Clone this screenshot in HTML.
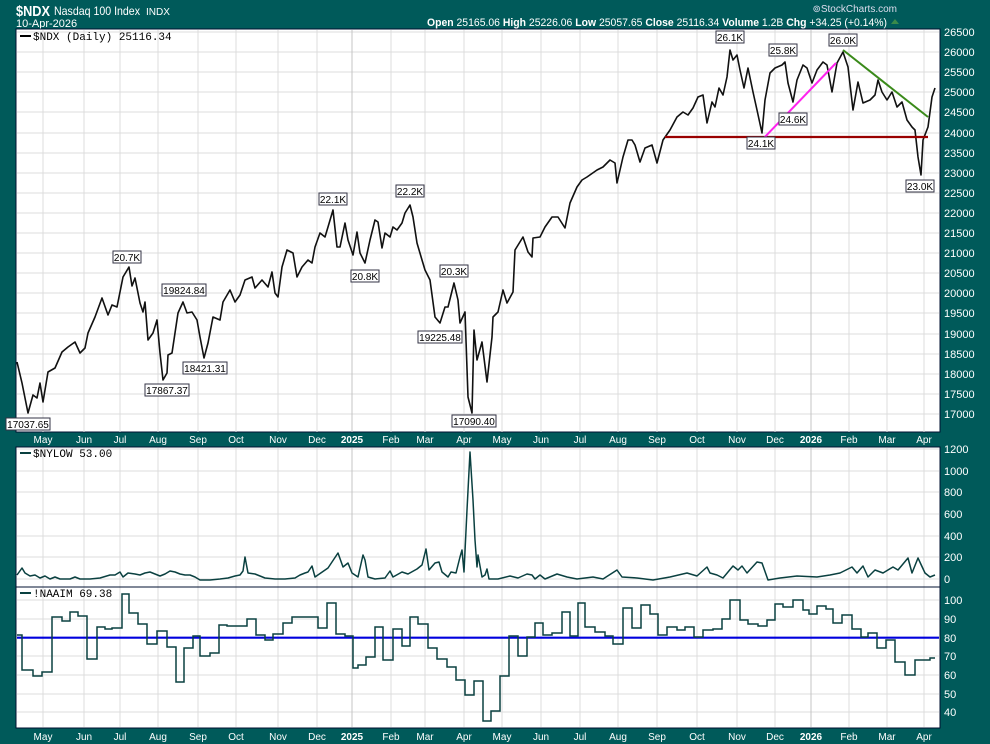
<!DOCTYPE html>
<html><head><meta charset="utf-8"><style>
html,body{margin:0;padding:0;background:#005a5a;}
svg{display:block;font-family:"Liberation Sans",sans-serif;}
</style></head><body>
<svg width="990" height="744" viewBox="0 0 990 744" xmlns="http://www.w3.org/2000/svg">
<rect width="990" height="744" fill="#005a5a"/>
<!-- header -->
<text x="16" y="16" fill="#fff" font-size="15" font-weight="bold" textLength="34" lengthAdjust="spacingAndGlyphs">$NDX</text>
<text x="54" y="15" fill="#fff" font-size="12" textLength="86" lengthAdjust="spacingAndGlyphs">Nasdaq 100 Index</text>
<text x="146" y="15" fill="#fff" font-size="10" textLength="24" lengthAdjust="spacingAndGlyphs">INDX</text>
<text x="16" y="27" fill="#fff" font-size="11">10-Apr-2026</text>
<text x="897" y="12" fill="#dde" font-size="10" text-anchor="end">⊚StockCharts.com</text>
<text x="427" y="26" fill="#fff" font-size="11" textLength="460" lengthAdjust="spacingAndGlyphs"><tspan font-weight="bold">Open</tspan> 25165.06  <tspan font-weight="bold">High</tspan> 25226.06  <tspan font-weight="bold">Low</tspan> 25057.65  <tspan font-weight="bold">Close</tspan> 25116.34  <tspan font-weight="bold">Volume</tspan> 1.2B  <tspan font-weight="bold">Chg</tspan> +34.25 (+0.14%)</text>
<polygon points="891,24 895,19 899,24" fill="#3a8a4a"/>

<!-- panels -->
<rect x="16" y="29" width="924" height="403" fill="#fff" stroke="#001030"/>
<rect x="16" y="447" width="924" height="140" fill="#fff" stroke="#001030"/>
<rect x="16" y="587" width="924" height="141" fill="#fff" stroke="#001030"/>

<g stroke="#dcdcdc" stroke-width="1">
<path d="M17 32H939M17 52H939M17 72H939M17 92H939M17 112H939M17 133H939M17 153H939M17 173H939M17 193H939M17 213H939M17 233H939M17 253H939M17 273H939M17 293H939M17 313H939M17 334H939M17 354H939M17 374H939M17 394H939M17 414H939"/>
<path d="M17 449H939M17 471H939M17 492H939M17 514H939M17 536H939M17 557H939M17 579H939"/>
<path d="M17 600H939M17 619H939M17 638H939M17 656H939M17 675H939M17 694H939M17 712H939"/>
<path d="M43 30V432M84 30V432M120 30V432M158 30V432M198 30V432M236 30V432M278 30V432M317 30V432M391 30V432M425 30V432M464 30V432M502 30V432M541 30V432M580 30V432M618 30V432M657 30V432M697 30V432M737 30V432M775 30V432M849 30V432M887 30V432M924 30V432"/>
<path d="M43 448V727M84 448V727M120 448V727M158 448V727M198 448V727M236 448V727M278 448V727M317 448V727M391 448V727M425 448V727M464 448V727M502 448V727M541 448V727M580 448V727M618 448V727M657 448V727M697 448V727M737 448V727M775 448V727M849 448V727M887 448V727M924 448V727"/>
</g>
<path d="M352 30V432M811 30V432M352 448V727M811 448V727" stroke="#c4c4c4"/>
<path d="M16 587H940" stroke="#001030"/>

<g fill="#fff" font-size="11">
<text x="944" y="36">26500</text><text x="944" y="56">26000</text><text x="944" y="76">25500</text><text x="944" y="96">25000</text><text x="944" y="116">24500</text><text x="944" y="137">24000</text><text x="944" y="157">23500</text><text x="944" y="177">23000</text><text x="944" y="197">22500</text><text x="944" y="217">22000</text><text x="944" y="237">21500</text><text x="944" y="257">21000</text><text x="944" y="277">20500</text><text x="944" y="297">20000</text><text x="944" y="317">19500</text><text x="944" y="338">19000</text><text x="944" y="358">18500</text><text x="944" y="378">18000</text><text x="944" y="398">17500</text><text x="944" y="418">17000</text>
<text x="944" y="453">1200</text><text x="944" y="475">1000</text><text x="944" y="496">800</text><text x="944" y="518">600</text><text x="944" y="540">400</text><text x="944" y="561">200</text><text x="944" y="583">0</text>
<text x="944" y="604">100</text><text x="944" y="623">90</text><text x="944" y="642">80</text><text x="944" y="660">70</text><text x="944" y="679">60</text><text x="944" y="698">50</text><text x="944" y="716">40</text>
</g>
<g fill="#fff" font-size="10" text-anchor="middle">
<text x="43" y="443">May</text><text x="84" y="443">Jun</text><text x="120" y="443">Jul</text><text x="158" y="443">Aug</text><text x="198" y="443">Sep</text><text x="236" y="443">Oct</text><text x="278" y="443">Nov</text><text x="317" y="443">Dec</text><text x="352" y="443" font-weight="bold">2025</text><text x="391" y="443">Feb</text><text x="425" y="443">Mar</text><text x="464" y="443">Apr</text><text x="502" y="443">May</text><text x="541" y="443">Jun</text><text x="580" y="443">Jul</text><text x="618" y="443">Aug</text><text x="657" y="443">Sep</text><text x="697" y="443">Oct</text><text x="737" y="443">Nov</text><text x="775" y="443">Dec</text><text x="811" y="443" font-weight="bold">2026</text><text x="849" y="443">Feb</text><text x="887" y="443">Mar</text><text x="924" y="443">Apr</text>
<text x="43" y="740">May</text><text x="84" y="740">Jun</text><text x="120" y="740">Jul</text><text x="158" y="740">Aug</text><text x="198" y="740">Sep</text><text x="236" y="740">Oct</text><text x="278" y="740">Nov</text><text x="317" y="740">Dec</text><text x="352" y="740" font-weight="bold">2025</text><text x="391" y="740">Feb</text><text x="425" y="740">Mar</text><text x="464" y="740">Apr</text><text x="502" y="740">May</text><text x="541" y="740">Jun</text><text x="580" y="740">Jul</text><text x="618" y="740">Aug</text><text x="657" y="740">Sep</text><text x="697" y="740">Oct</text><text x="737" y="740">Nov</text><text x="775" y="740">Dec</text><text x="811" y="740" font-weight="bold">2026</text><text x="849" y="740">Feb</text><text x="887" y="740">Mar</text><text x="924" y="740">Apr</text>
</g>

<g font-family="'Liberation Mono',monospace" font-size="11" fill="#000">
<rect x="20" y="35" width="11" height="2" fill="#000"/><text x="33" y="40">$NDX (Daily) 25116.34</text>
<rect x="20" y="452" width="11" height="2" fill="#0a4040"/><text x="33" y="457">$NYLOW 53.00</text>
<rect x="20" y="592" width="11" height="2" fill="#0a4040"/><text x="33" y="597">!NAAIM 69.38</text>
</g>

<polyline fill="none" stroke="#111" stroke-width="1.6" stroke-linejoin="round" points="17,362 22,383 28,413 33,395 37,398 40,383 43,402 48,372 55,368 62,352 68,347 75,342 80,353 85,348 88,333 95,317 102,298 108,315 112,305 117,307 123,277 129,267 132,286 135,278 140,303 143,312 145,302 148,340 153,333 157,320 160,353 163,380 167,373 168,355 172,353 178,313 183,302 187,313 192,312 197,320 200,337 204,358 208,343 213,317 220,320 223,302 230,290 235,302 240,295 245,280 252,277 255,288 262,280 268,287 272,272 275,293 278,297 282,267 287,250 293,253 297,277 302,267 308,260 312,263 315,247 320,233 325,237 328,227 333,210 337,247 340,247 345,223 348,240 353,255 357,232 360,253 365,263 370,240 375,220 378,222 382,248 385,233 390,237 393,227 397,230 402,223 405,213 410,205 413,217 417,243 422,260 425,270 430,280 435,317 440,323 445,307 448,307 454,283 458,300 460,323 465,312 468,397 472,413 474,330 477,360 482,342 487,382 492,337 493,317 498,312 503,290 507,303 513,292 515,250 523,237 528,252 532,257 533,238 540,237 545,227 552,217 558,217 565,228 570,203 577,187 582,180 587,177 597,170 603,167 610,160 615,163 617,183 623,157 628,140 632,140 635,145 640,162 645,148 652,145 657,163 663,140 670,130 677,117 683,112 688,115 693,108 698,97 703,95 707,123 712,102 715,107 719,88 723,95 727,77 730,50 733,60 737,55 740,70 744,88 748,68 753,92 757,110 762,133 765,100 770,73 775,68 782,65 785,62 788,83 793,102 797,80 803,65 807,68 812,83 817,70 823,62 827,65 832,92 837,63 843,52 848,67 853,110 858,82 863,103 870,100 875,95 878,80 882,92 887,100 892,92 897,107 902,102 907,120 912,127 915,130 918,157 921,175 923,140 928,127 932,97 935,88"/>
<line x1="665" y1="137" x2="928" y2="137" stroke="#990000" stroke-width="2.2"/>
<line x1="760" y1="142" x2="836" y2="63" stroke="#ff22ee" stroke-width="2"/>
<line x1="843" y1="50" x2="928" y2="117" stroke="#3a8a1a" stroke-width="2"/>

<g font-size="10" fill="#000" text-anchor="middle">
<g stroke="#334" fill="#fff" stroke-width="1">
<rect x="716" y="31" width="28" height="12"/><rect x="769" y="44" width="28" height="12"/><rect x="829" y="34" width="28" height="12"/><rect x="779" y="113" width="28" height="12"/><rect x="747" y="137" width="28" height="12"/><rect x="906" y="180" width="28" height="12"/>
<rect x="113" y="251" width="28" height="12"/><rect x="162" y="284" width="44" height="12"/><rect x="145" y="384" width="44" height="12"/><rect x="183" y="362" width="44" height="12"/><rect x="319" y="193" width="28" height="12"/><rect x="351" y="270" width="28" height="12"/><rect x="396" y="185" width="28" height="12"/><rect x="440" y="265" width="28" height="12"/><rect x="418" y="331" width="44" height="12"/><rect x="452" y="415" width="44" height="12"/><rect x="6" y="418" width="44" height="12"/>
</g>
<text x="730" y="41">26.1K</text><text x="783" y="54">25.8K</text><text x="843" y="44">26.0K</text><text x="793" y="123">24.6K</text><text x="761" y="147">24.1K</text><text x="920" y="190">23.0K</text>
<text x="127" y="261">20.7K</text><text x="184" y="294">19824.84</text><text x="167" y="394">17867.37</text><text x="205" y="372">18421.31</text><text x="333" y="203">22.1K</text><text x="365" y="280">20.8K</text><text x="410" y="195">22.2K</text><text x="454" y="275">20.3K</text><text x="440" y="341">19225.48</text><text x="474" y="425">17090.40</text><text x="28" y="428">17037.65</text>
</g>

<polyline fill="none" stroke="#0a4040" stroke-width="1.5" stroke-linejoin="round" points="17,575 22,568 25,573 30,576 35,575 40,578 45,576 50,579 55,577 60,579 70,579 75,577 80,579 90,579 100,578 110,575 115,575 120,572 123,577 128,573 135,574 140,575 145,573 150,572 155,574 160,576 165,574 170,571 175,572 180,574 185,575 190,575 195,577 200,580 210,580 220,579 228,578 235,576 240,575 243,571 245,557 248,573 255,574 260,576 265,578 275,579 285,579 295,578 300,575 305,573 308,572 312,566 315,577 328,568 338,553 343,567 348,563 352,573 358,577 363,555 365,560 368,577 375,579 385,578 390,571 393,577 402,572 408,574 417,569 422,565 426,549 429,570 435,563 439,562 442,572 448,577 451,572 456,573 460,557 462,550 464,572 467,510 470,452 473,500 475,540 477,567 478,555 482,577 485,575 487,569 489,579 498,579 510,576 518,578 527,574 532,575 535,579 540,575 545,579 557,574 567,577 577,579 593,577 603,579 617,570 622,577 637,578 653,580 670,577 687,573 697,576 707,567 710,573 717,575 723,578 733,566 738,570 742,566 747,573 757,562 762,563 768,580 780,578 797,576 817,577 830,575 840,573 852,567 857,573 863,566 868,577 875,570 883,573 893,567 898,570 908,558 912,573 918,558 925,573 930,577 935,575"/>

<line x1="17" y1="637.7" x2="939" y2="637.7" stroke="#0000dd" stroke-width="2.2"/>
<path fill="none" stroke="#0a4040" stroke-width="1.5" d="M17 635H22V670H33V676H42V672H52V617H62V621H70V612H78V616H87V659H97V627H105V629H112V628H122V594H129V613H138V624H147V644H157V631H167V647H176V682H184V648H193V636H200V656H210V653H219V625H227V626H247V619H256V635H265V640H273V634H283V623H292V617H318V628H327V603H336V634H345V636H353V668H358V665H366V657H375V627H383V660H393V629H402V646H410V617H418V624H428V648H437V659H447V667H456V680H465V695H474V681H483V721H491V711H500V676H509V636H518V656H527V637H535V623H543V635H552V633H562V612H570V636H578V603H585V627H595V632H605V636H613V644H623V608H632V628H641V605H650V614H658V635H667V627H677V630H685V627H694V637H703V630H713V629H722V619H730V600H740V620H748V624H758V626H767V620H775V604H783V607H793V600H803V610H809V614H817V606H826V609H833V623H842V615H852V629H861V637H868V633H877V648H886V640H895V662H905V675H915V660H930V658H935"/>
</svg>
</body></html>
